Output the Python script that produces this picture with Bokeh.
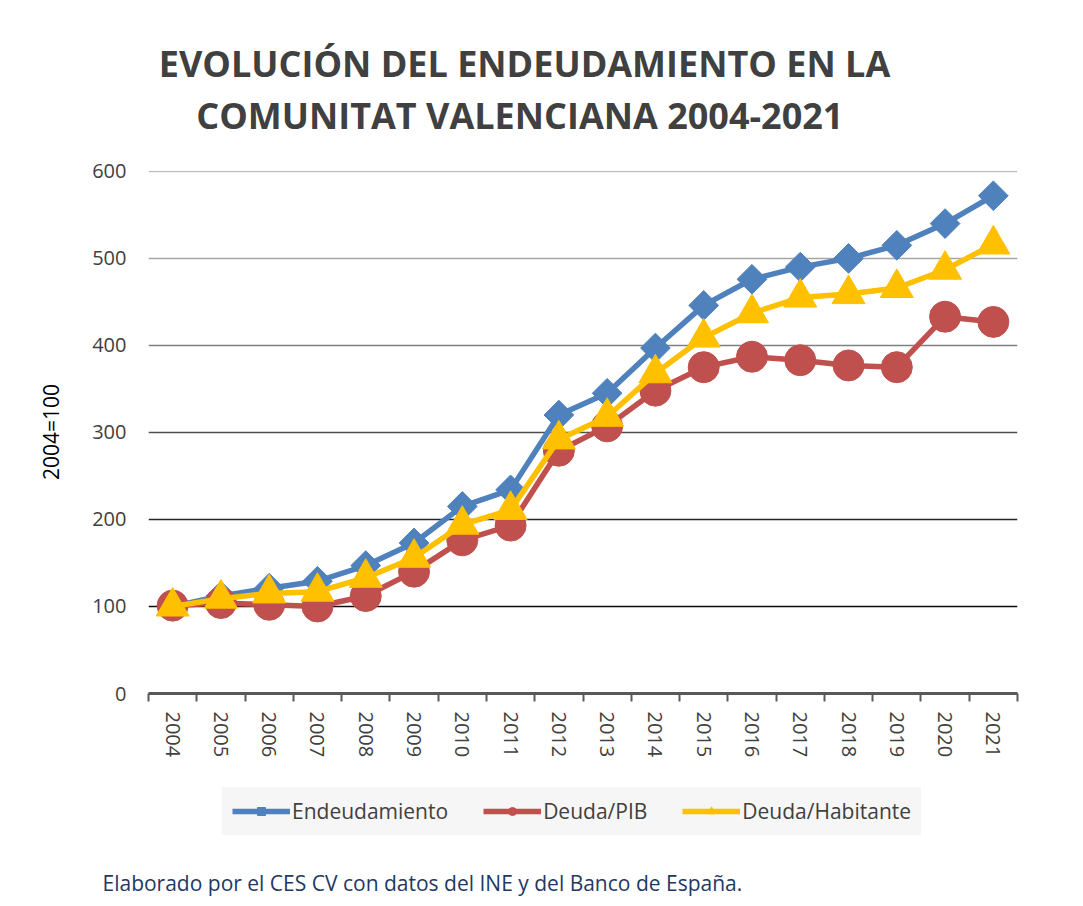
import numpy as np
from bokeh.plotting import figure
from bokeh.models import FixedTicker, Grid, Legend, LegendItem, Label, Range1d
from bokeh.layouts import column
from bokeh.embed import file_html
from bokeh.resources import INLINE

years = list(range(2004, 2022))
endeudamiento = [100, 112, 121, 129, 147, 173, 215, 234, 320, 345, 397, 446, 476, 490, 500, 515, 540, 572]
deuda_pib = [101, 104, 102, 100, 112, 140, 176, 193, 279, 307, 348, 375, 387, 383, 377, 375, 433, 427]
deuda_habitante = [100, 109, 115, 117, 133, 156, 194, 211, 292, 318, 368, 409, 437, 455, 459, 466, 487, 516]
y_ticks = [0, 100, 200, 300, 400, 500, 600]
grid_colors = ["#0D0D0D", "#262626", "#4D4D4D", "#7F7F7F", "#A6A6A6", "#BFBFBF"]
title_lines = ["EVOLUCIÓN DEL ENDEUDAMIENTO EN LA", "COMUNITAT VALENCIANA  2004-2021"]
series_names = ["Endeudamiento", "Deuda/PIB", "Deuda/Habitante"]
footer_text = "Elaborado por el CES CV con datos del INE y del Banco de España."

BLUE = "#4F81BD"
RED = "#C0504D"
YELLOW = "#FFC000"
FONT = "Open Sans"
W = 1083

# ---- title strip ----
top = figure(width=W, height=156, output_backend="svg", toolbar_location=None,
             x_axis_type=None, y_axis_type=None, x_range=Range1d(0, 1), y_range=Range1d(0, 1),
             min_border=0, outline_line_color=None, frame_align=False)
top.add_layout(Label(x=524, y=93, x_units="screen", y_units="screen", text=title_lines[0],
                     text_align="center", text_baseline="alphabetic", text_font=FONT,
                     text_font_style="bold", text_font_size="36px", text_color="#404040"))
top.add_layout(Label(x=524, y=41, x_units="screen", y_units="screen", text=title_lines[1],
                     text_align="center", text_baseline="alphabetic", text_font=FONT,
                     text_font_style="bold", text_font_size="36px", text_color="#404040"))

# ---- main chart ----
p = figure(frame_width=869, frame_height=523, output_backend="svg", toolbar_location=None,
           x_range=Range1d(2003.5, 2021.5), y_range=Range1d(0, 601),
           min_border_left=148, min_border_right=66, min_border_top=14,
           min_border_bottom=80, outline_line_color=None, title=None, frame_align=False)

p.xgrid.visible = False
p.ygrid.visible = False
for v, c in zip(y_ticks[1:], grid_colors):
    p.add_layout(Grid(dimension=1, ticker=FixedTicker(ticks=[v]),
                      grid_line_color=c, grid_line_width=1.5))

xa = p.xaxis[0]
xa.ticker = FixedTicker(ticks=years, minor_ticks=[y - 0.5 for y in years] + [years[-1] + 0.5])
xa.major_tick_line_color = None
xa.minor_tick_in = 0
xa.minor_tick_out = 8
xa.minor_tick_line_color = "#595959"
xa.minor_tick_line_width = 2
xa.axis_line_color = "#595959"
xa.axis_line_width = 3
xa.major_label_orientation = "vertical"
xa.major_label_text_font = FONT
xa.major_label_text_font_size = "20px"
xa.major_label_text_color = "#404040"
xa.major_label_standoff = 10

ya = p.yaxis[0]
ya.ticker = FixedTicker(ticks=y_ticks)
ya.axis_line_color = None
ya.major_tick_line_color = None
ya.minor_tick_line_color = None
ya.major_label_text_font = FONT
ya.major_label_text_font_size = "20px"
ya.major_label_text_color = "#404040"
ya.major_label_standoff = 16
ya.axis_label = "2004=100"
ya.axis_label_text_font = FONT
ya.axis_label_text_font_style = "normal"
ya.axis_label_text_font_size = "21px"
ya.axis_label_text_color = "#000000"
ya.axis_label_standoff = 24

series = [(endeudamiento, BLUE, dict(marker="square", angle=np.pi / 4, size=21)),
          (deuda_pib, RED, dict(marker="circle", size=31)),
          (deuda_habitante, YELLOW, dict(marker="triangle", size=33))]
for vals, col, mk in series:
    p.line(years, vals, line_color=col, line_width=5.5)
    p.scatter(years, vals, fill_color=col, line_color=col, **mk)

# ---- legend + source strip ----
bot = figure(width=W, height=131, output_backend="svg", toolbar_location=None,
             x_axis_type=None, y_axis_type=None, x_range=Range1d(0, 1), y_range=Range1d(0, 1),
             min_border=0, outline_line_color=None, frame_align=False)
items = []
for name, (vals, col, mk) in zip(series_names, series):
    lr = bot.line(years, vals, line_color=col, line_width=5.5)
    sr = bot.scatter(years, vals, fill_color=col, line_color=col, **mk)
    items.append(LegendItem(label=name, renderers=[lr, sr]))
legend = Legend(items=items, orientation="horizontal", location=(222, 69),
                background_fill_color="#F5F5F5", border_line_color="#F5F5F5",
                border_line_width=1,
                label_text_font=FONT, label_text_font_size="21px",
                label_text_color="#404040", glyph_width=58, glyph_height=20,
                label_standoff=2, spacing=35, padding=9, margin=0)
bot.add_layout(legend, "center")
bot.add_layout(Label(x=102, y=22, x_units="screen", y_units="screen", text=footer_text,
                     text_align="left", text_baseline="alphabetic", text_font=FONT,
                     text_font_size="21px", text_color="#1F3864"))

layout = column(top, p, bot, spacing=0)
open("out.html", "w").write(file_html(layout, INLINE))
